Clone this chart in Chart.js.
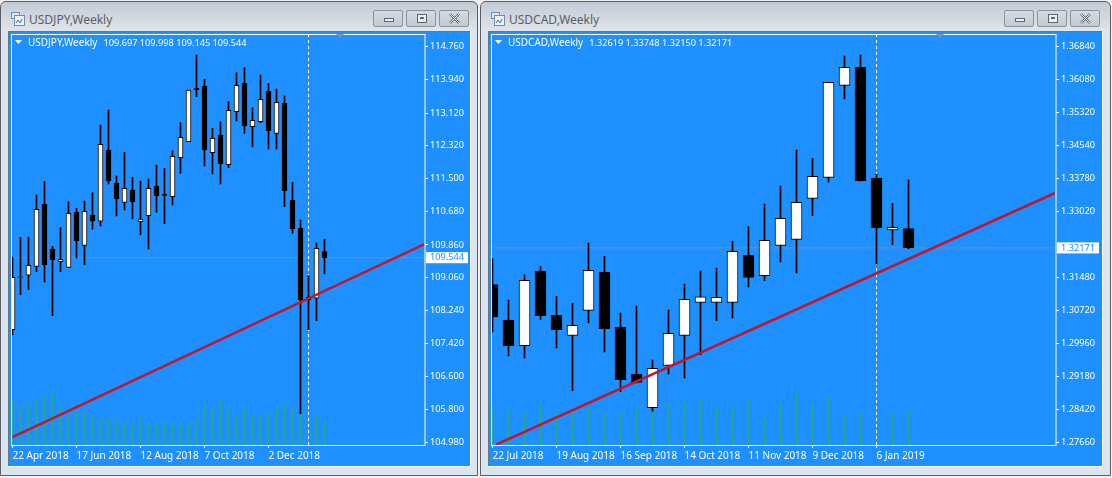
<!DOCTYPE html>
<html>
<head>
<meta charset="utf-8">
<title>USDJPY / USDCAD Weekly</title>
<script src="https://cdn.jsdelivr.net/npm/chart.js@4"></script>
<style>
  html, body { margin: 0; padding: 0; background: #eef0f2; }
  body { position: relative; width: 1112px; height: 478px; overflow: hidden; }
  .win { position: absolute; top: 1px; height: 475px; box-sizing: border-box;
         border: 1px solid #5c6066; border-radius: 6px 6px 0 0;
         background: linear-gradient(#c2cad5 0, #e2e6ea 30px, #dbe5f0 30px); }
  .caption { position: absolute; top: 9px; left: 28px; font: 12px "Noto Sans", sans-serif; color: #5a5f66; }
  .icon { position: absolute; left: 9px; top: 9px; }
  .btn { position: absolute; top: 8px; width: 30px; height: 17px; box-sizing: border-box;
         border: 1px solid #8b939d; border-radius: 2px; background: linear-gradient(#d5dae1, #c3cad3); }
  .btn svg { position: absolute; left: 8px; top: 1px; }
  .client { position: absolute; top: 31px; height: 435px; background: #1e90ff; }
  .client canvas { display: block; }
  .bevel { position: absolute; left: 0; top: 0; right: 0; bottom: 0; box-sizing: border-box;
           border-top: 1px solid #66758a; border-left: 1px solid #66758a;
           box-shadow: 1px 1px 0 #fff; pointer-events: none; }
  .marker { position: absolute; top: 3px; width: 0; height: 0; border-left: 4px solid transparent;
            border-right: 4px solid transparent; border-top: 4px solid #8a8f96; z-index: 2; }
</style>
</head>
<body>

<div class="win" style="left:0;width:478px">
  <svg class="icon" width="16" height="16"><rect x="1.5" y="1.5" width="8" height="6" fill="#dfe9f5" stroke="#6d8fb5"/><rect x="4.5" y="4.5" width="10" height="10" fill="#eef4fb" stroke="#6d8fb5"/><path d="M6 12l2-3 2 3 2-4" fill="none" stroke="#44709f"/></svg>
  <div class="caption">USDJPY,Weekly</div>
  <div class="btn" style="left:372px"><svg width="14" height="14"><rect x="2.5" y="6.5" width="9" height="3" fill="#eef1f4" stroke="#60666e"/></svg></div>
  <div class="btn" style="left:405px"><svg width="14" height="14"><rect x="2.5" y="2.5" width="9" height="8" fill="#eef1f4" stroke="#60666e"/><rect x="5" y="5" width="4" height="2" fill="#60666e"/></svg></div>
  <div class="btn" style="left:438px"><svg width="14" height="14"><path d="M2 2l9 9M11 2l-9 9" stroke="#60666e" stroke-width="2.4"/><path d="M2 2l9 9M11 2l-9 9" stroke="#eef1f4" stroke-width="1"/></svg></div>
</div>

<div class="win" style="left:480px;width:631px">
  <svg class="icon" width="16" height="16"><rect x="1.5" y="1.5" width="8" height="6" fill="#dfe9f5" stroke="#6d8fb5"/><rect x="4.5" y="4.5" width="10" height="10" fill="#eef4fb" stroke="#6d8fb5"/><path d="M6 12l2-3 2 3 2-4" fill="none" stroke="#44709f"/></svg>
  <div class="caption">USDCAD,Weekly</div>
  <div class="btn" style="left:523px"><svg width="14" height="14"><rect x="2.5" y="6.5" width="9" height="3" fill="#eef1f4" stroke="#60666e"/></svg></div>
  <div class="btn" style="left:556px"><svg width="14" height="14"><rect x="2.5" y="2.5" width="9" height="8" fill="#eef1f4" stroke="#60666e"/><rect x="5" y="5" width="4" height="2" fill="#60666e"/></svg></div>
  <div class="btn" style="left:589px"><svg width="14" height="14"><path d="M2 2l9 9M11 2l-9 9" stroke="#60666e" stroke-width="2.4"/><path d="M2 2l9 9M11 2l-9 9" stroke="#eef1f4" stroke-width="1"/></svg></div>
</div>

<div class="client" style="left:8px;width:462px">
  <canvas id="chartJpy" width="462" height="435"></canvas>
  <div class="marker" style="left:328px"></div>
  <div class="bevel"></div>
</div>
<div class="client" style="left:488px;width:614px">
  <canvas id="chartCad" width="614" height="435"></canvas>
  <div class="marker" style="left:448px"></div>
  <div class="bevel"></div>
</div>

<script>
// USDJPY weekly candles
const jpyOpen = [107.764,109.055,109.109,109.331,110.871,109.759,109.445,109.306,110.666,109.850,
  110.599,110.444,112.206,111.390,110.913,111.217,110.434,110.582,111.316,111.086,
  111.052,112.016,112.411,113.732,113.788,112.139,112.577,111.843,113.153,113.855,
  112.782,112.906,113.657,112.619,113.361,110.963,110.271,108.565,108.540,109.697];
const jpyHigh = [109.554,110.048,110.055,111.094,111.423,109.825,110.285,110.928,110.765,110.945,
  111.151,112.824,113.195,111.563,112.149,111.531,111.440,111.489,111.835,111.754,
  112.189,112.881,113.690,114.555,113.954,112.743,112.906,113.400,114.117,114.241,
  113.252,114.060,113.855,113.714,113.541,111.408,110.476,109.099,109.907,109.998];
const jpyLow = [107.633,108.629,108.753,109.198,108.943,108.110,109.198,109.306,109.536,109.371,
  110.246,110.327,111.366,110.575,110.723,110.500,110.105,109.759,110.666,110.384,
  110.847,111.630,112.411,113.524,111.811,111.613,111.366,111.769,112.923,112.619,
  112.280,112.881,112.231,112.231,110.804,110.147,105.687,107.764,107.986,109.145];
const jpyClose = [109.059,109.059,109.356,110.740,109.371,109.494,109.504,110.641,109.964,110.691,
  110.451,112.347,111.440,110.995,111.259,110.928,110.500,111.259,111.076,111.086,
  112.050,112.520,113.690,113.697,112.206,112.495,111.868,113.188,113.806,112.800,
  112.940,113.460,112.683,113.385,111.200,110.261,108.505,108.505,109.776,109.544];
const jpyVolume = [4500,4000,4150,4500,5100,5300,3900,3100,3500,3250,2900,2750,2750,2500,2350,2150,2800,2200,2150,2350,
  2100,2100,2150,2600,3850,3750,4500,3750,2900,3750,3000,2850,3100,3650,4000,3750,3200,3250,2900,2250];
const jpyDates = ["22 Apr 2018","17 Jun 2018","12 Aug 2018","7 Oct 2018","2 Dec 2018"];
const jpyDateAt = [0,8,16,24,32];
const jpyPriceTicks = [114.760,113.940,113.120,112.320,111.500,110.680,109.860,109.060,108.240,107.420,106.600,105.800,104.980];
const jpyTrendX = [0,51.5];
const jpyTrendY = [105.11,109.88];

// USDCAD weekly candles
const cadOpen = [1.31317,1.30497,1.29901,1.31635,1.30607,1.30142,1.30723,1.31612,1.30335,1.29244,
  1.28462,1.29446,1.30142,1.30908,1.30908,1.30908,1.31999,1.31526,1.32231,1.32370,
  1.33322,1.33809,1.35944,1.36362,1.33793,1.32586,1.32619];
const cadHigh = [1.31920,1.30962,1.31549,1.31744,1.31048,1.30885,1.32284,1.31976,1.30660,1.30822,
  1.29569,1.30730,1.31333,1.31635,1.31704,1.32324,1.32663,1.33190,1.33607,1.34443,
  1.34250,1.36014,1.36624,1.36647,1.33886,1.33206,1.33748];
const cadLow = [1.30219,1.29662,1.29616,1.30504,1.29848,1.28857,1.30428,1.29755,1.28834,1.29036,
  1.28379,1.29244,1.29152,1.29692,1.30481,1.30544,1.31263,1.31410,1.31844,1.31588,
  1.32918,1.33700,1.35626,1.33723,1.31797,1.32245,1.32150];
const cadClose = [1.30567,1.29901,1.31419,1.30597,1.30272,1.30375,1.31651,1.30296,1.29112,1.29052,
  1.29377,1.30189,1.30978,1.31038,1.31024,1.32092,1.31488,1.32347,1.32858,1.33229,
  1.33832,1.36014,1.36362,1.33723,1.32633,1.32649,1.32171];
const cadVolume = [3600,3600,3250,4000,3250,3450,3750,3200,3150,3650,3600,4100,4100,4500,3800,3800,4500,2600,4000,5300,
  4000,4900,2900,3300,3250,3150,3500];
const cadDates = ["22 Jul 2018","19 Aug 2018","16 Sep 2018","14 Oct 2018","11 Nov 2018","9 Dec 2018","6 Jan 2019"];
const cadDateAt = [0,4,8,12,16,20,24];
const cadPriceTicks = [1.36840,1.36080,1.35320,1.34540,1.33780,1.33020,1.31480,1.30720,1.29960,1.29180,1.28420,1.27660];
const cadTrendX = [0.22,35.16];
const cadTrendY = [1.27604,1.33445];

const FONT = '"Noto Sans", sans-serif';
const BLUE = '#1e90ff';

// frame round the plot and the small header line top left
const chartDecor = {
  id: 'chartDecor',
  afterDatasetsDraw(chart, args, opts) {
    const c = chart.ctx, a = chart.chartArea;
    c.save();
    c.strokeStyle = '#fff';
    c.lineWidth = 1;
    c.strokeRect(a.left + 0.5, a.top + 0.5, a.right - a.left - 0.5, a.bottom - a.top);
    c.fillStyle = '#fff';
    c.beginPath();
    c.moveTo(a.left + 4, a.top + 6);
    c.lineTo(a.left + 11, a.top + 6);
    c.lineTo(a.left + 7.5, a.top + 10);
    c.closePath();
    c.fill();
    c.textBaseline = 'alphabetic';
    c.font = '10px ' + FONT;
    c.fillText(opts.name, a.left + 17, a.top + 12);
    const nameWidth = c.measureText(opts.name).width;
    c.font = '9.2px ' + FONT;
    c.fillText(opts.values, a.left + 17 + nameWidth + 6, a.top + 12);
    c.restore();
  }
};

function makeChart(id, s) {
  const n = s.open.length;
  const last = s.close[n - 1];
  const wicks = s.open.map((v, i) => ({ x: i, y: [s.low[i], s.high[i]] }));
  const bodies = s.open.map((v, i) => ({ x: i, y: [v, s.close[i]] }));
  const volumes = s.volume.map((v, i) => ({ x: i, y: v }));
  const values = [s.open, s.high, s.low, s.close].map(a => a[n - 1].toFixed(s.digits)).join(' ');

  new Chart(document.getElementById(id), {
    type: 'bar',
    data: {
      datasets: [
        { type: 'bar', data: volumes, yAxisID: 'vol', barThickness: 1, backgroundColor: '#2ea880', order: 9, clip: 0 },
        { type: 'line', data: [{ x: s.xMin, y: last }, { x: s.xMax, y: last }], borderColor: '#7f8c9c', borderWidth: 1, pointRadius: 0, order: 8 },
        { type: 'line', data: [{ x: s.cursor, y: s.yMin }, { x: s.cursor, y: s.yMax }], borderColor: '#fff', borderWidth: 1, borderDash: [3, 3], pointRadius: 0, order: 7 },
        { type: 'bar', data: wicks, barThickness: 1, backgroundColor: '#000', order: 5, clip: 0 },
        { type: 'bar', data: bodies, barThickness: s.bodyWidth, minBarLength: 1, borderSkipped: false, borderWidth: 1, borderColor: '#000',
          backgroundColor: bodies.map(b => b.y[1] > b.y[0] ? '#fff' : '#000'), order: 4, clip: 0 },
        { type: 'line', data: s.trendX.map((x, i) => ({ x: x, y: s.trendY[i] })), borderColor: '#c4142e', borderWidth: 2.5, pointRadius: 0, order: 1 }
      ]
    },
    options: {
      responsive: false,
      animation: false,
      layout: { padding: { left: 3, top: 3, right: 0, bottom: 0 } },
      datasets: { bar: { grouped: false } },
      plugins: { legend: { display: false }, tooltip: { enabled: false }, chartDecor: { name: s.name + ',Weekly', values: values } },
      scales: {
        x: {
          type: 'linear',
          offset: false,
          min: s.xMin,
          max: s.xMax,
          afterBuildTicks: ax => { ax.ticks = s.dateAt.map(v => ({ value: v })); },
          afterFit: ax => { ax.height = 21; ax.paddingLeft = 0; ax.paddingRight = 0; },
          border: { display: false },
          grid: { drawOnChartArea: false, color: '#fff', tickColor: '#fff', tickLength: 3, offset: false },
          ticks: {
            autoSkip: false, maxRotation: 0, align: 'start', padding: 2, color: '#fff', font: { family: FONT, size: 10 },
            callback: v => s.dates[s.dateAt.indexOf(v)]
          }
        },
        y: {
          position: 'right',
          min: s.yMin,
          max: s.yMax,
          afterBuildTicks: ax => { ax.ticks = s.ticks.concat(last).map(v => ({ value: v })); },
          afterFit: ax => { ax.width = s.axisWidth; ax.paddingTop = 0; ax.paddingBottom = 0; },
          border: { display: false },
          grid: { drawOnChartArea: false, tickLength: 3, tickColor: c => c.tick && c.tick.value === last ? 'rgba(0,0,0,0)' : '#fff' },
          ticks: {
            autoSkip: false, padding: 2, font: { family: FONT, size: 9.2 },
            color: c => c.tick.value === last ? BLUE : '#fff',
            showLabelBackdrop: c => c.tick.value === last,
            backdropColor: '#fff',
            backdropPadding: { left: 4, right: 4, top: 0, bottom: 0 },
            callback: v => v.toFixed(s.digits)
          }
        },
        vol: { display: false, min: 0, max: 41100 }
      }
    },
    plugins: [chartDecor]
  });
}

makeChart('chartJpy', {
  name: 'USDJPY', digits: 3, open: jpyOpen, high: jpyHigh, low: jpyLow, close: jpyClose, volume: jpyVolume,
  dates: jpyDates, dateAt: jpyDateAt, ticks: jpyPriceTicks, trendX: jpyTrendX, trendY: jpyTrendY,
  cursor: 37, bodyWidth: 5, axisWidth: 45,
  xMin: -0.1875, xMax: 51.5625, yMin: 104.913, yMax: 115.074
});

makeChart('chartCad', {
  name: 'USDCAD', digits: 5, open: cadOpen, high: cadHigh, low: cadLow, close: cadClose, volume: cadVolume,
  dates: cadDates, dateAt: cadDateAt, ticks: cadPriceTicks, trendX: cadTrendX, trendY: cadTrendY,
  cursor: 24, bodyWidth: 11, axisWidth: 46,
  xMin: -0.09375, xMax: 35.21875, yMin: 1.27597, yMax: 1.37135
});
</script>
</body>
</html>
